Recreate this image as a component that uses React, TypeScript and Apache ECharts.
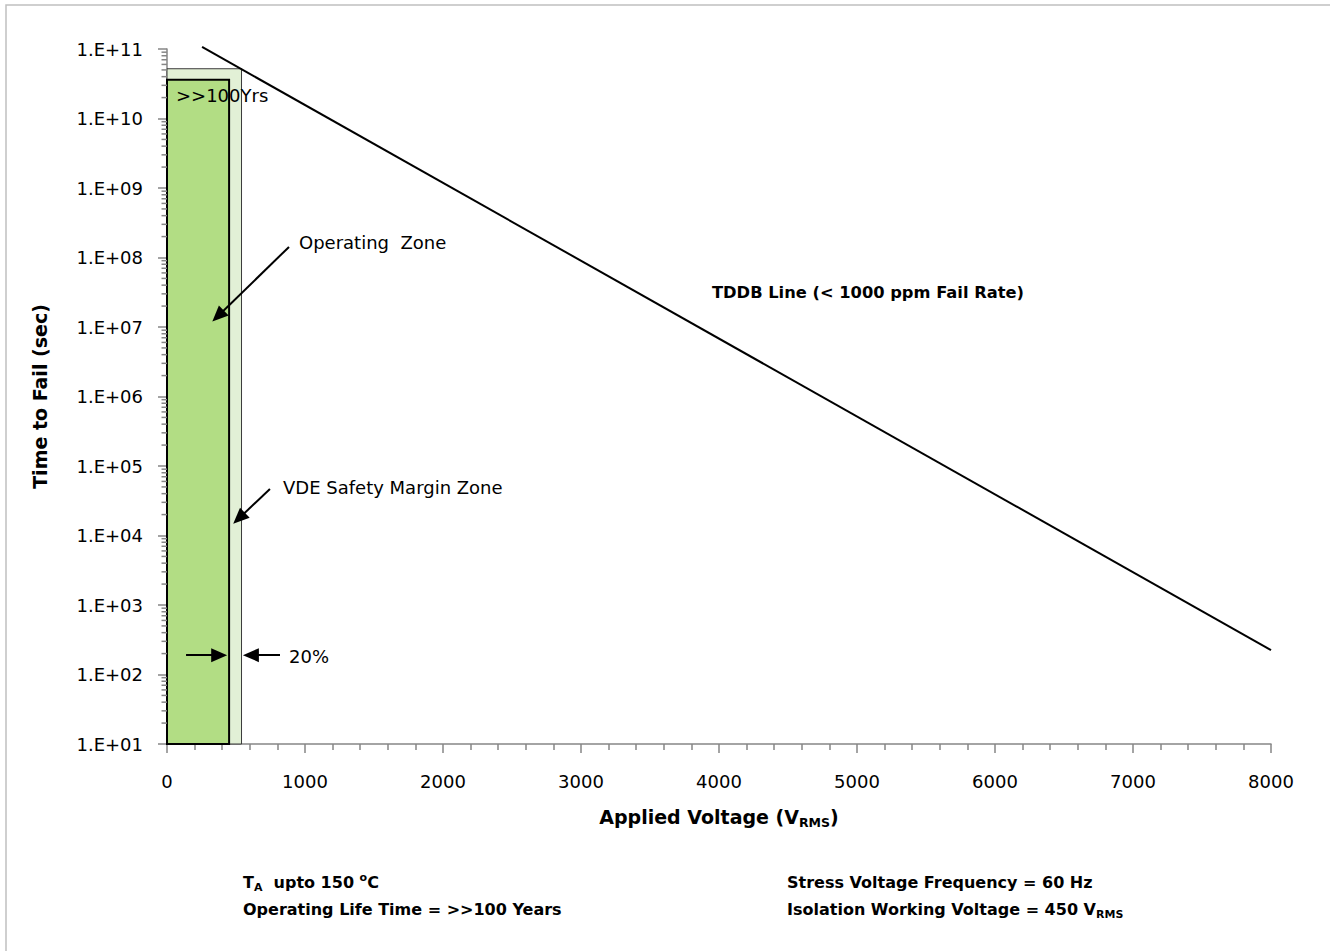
import React, { useEffect, useRef } from "react";
import * as echarts from "echarts";

// ---- data ----
const xTickValues = [0, 1000, 2000, 3000, 4000, 5000, 6000, 7000, 8000];
const yDecades = [1, 2, 3, 4, 5, 6, 7, 8, 9, 10, 11];
const tddbVoltage = [254, 8000];
const tddbTime = [1.07e11, 225];
// zones: [xStart, xEnd, yBottom, yTop]
const vdeZone = [0, 540, 10, 5.2e10];
const operatingZone = [0, 450, 10, 3.6e10];
// annotation arrows: [xFrom, yFrom, xTo, yTo] (data coordinates)
const operatingArrow = [884, 1.42e8, 370, 1.44e7];
const vdeArrow = [746, 4.67e4, 522, 1.77e4];
const marginArrowRight = [138, 190, 378, 190];
const marginArrowLeft = [819, 190, 608, 190];

const FONT = "DejaVu Sans";

function minorValues(): number[] {
  const out: number[] = [];
  for (let i = 0; i < yDecades.length - 1; i++) {
    for (let m = 2; m <= 9; m++) out.push(m * Math.pow(10, yDecades[i]));
  }
  return out;
}

export default function App() {
  const ref = useRef<HTMLDivElement>(null);
  useEffect(() => {
    document.body.style.margin = "0";
    const chart = echarts.init(ref.current!, undefined, { renderer: "svg" });
    const arrow = (a: number[]) => [
      { coord: [a[0], a[1]], symbol: "none" },
      { coord: [a[2], a[3]], symbol: "triangle", symbolSize: [14, 16] },
    ];
    const zones = [vdeZone, operatingZone];
    const zoneStyles = [
      { fill: "#E2F0D6", stroke: "#3a3a3a", lineWidth: 1 },
      { fill: "#B2DD84", stroke: "#000000", lineWidth: 2 },
    ];
    const bold16 = { fontFamily: FONT, fontSize: 16, fontWeight: "bold", fill: "#000", lineHeight: 21 };
    const sub11 = { fontFamily: FONT, fontSize: 11, fontWeight: "bold", fill: "#000", lineHeight: 13, verticalAlign: "bottom" };
    const sup11 = { fontFamily: FONT, fontSize: 11, fontWeight: "bold", fill: "#000", lineHeight: 13, verticalAlign: "top" };
    const option: any = {
      animation: false,
      grid: { left: 167, right: 59, top: 49, bottom: 207, containLabel: false },
      xAxis: {
        type: "value",
        min: xTickValues[0],
        max: xTickValues[xTickValues.length - 1],
        interval: 1000,
        name: "{b|Applied Voltage (V}{s|RMS}{b|)}",
        nameLocation: "middle",
        nameGap: 60,
        nameTextStyle: {
          rich: {
            b: { fontFamily: FONT, fontSize: 19, fontWeight: "bold", color: "#000", lineHeight: 25 },
            s: { fontFamily: FONT, fontSize: 12.5, fontWeight: "bold", color: "#000", lineHeight: 14, verticalAlign: "bottom" },
          },
        },
        axisLine: { lineStyle: { color: "#868686", width: 1.5 } },
        axisTick: { show: true, length: 9, lineStyle: { color: "#868686", width: 1.5 } },
        minorTick: { show: true, splitNumber: 5, length: 6, lineStyle: { color: "#868686", width: 1.5 } },
        splitLine: { show: false },
        axisLabel: { fontFamily: FONT, fontSize: 18, color: "#000", margin: 28, formatter: (v: number) => String(v) },
      },
      yAxis: {
        type: "log",
        logBase: 10,
        min: Math.pow(10, yDecades[0]),
        max: Math.pow(10, yDecades[yDecades.length - 1]),
        interval: 1,
        name: "Time to Fail (sec)",
        nameLocation: "middle",
        nameRotate: 90,
        nameGap: 118,
        nameTextStyle: { fontFamily: FONT, fontSize: 19, fontWeight: "bold", color: "#000" },
        axisLine: { show: true, lineStyle: { color: "#868686", width: 1.5 } },
        axisTick: { show: true, length: 9, lineStyle: { color: "#868686", width: 1.5 } },
        splitLine: { show: false },
        axisLabel: {
          fontFamily: FONT,
          fontSize: 18,
          color: "#000",
          margin: 24,
          formatter: (v: number) => {
            const e = Math.round(Math.log10(v));
            return "1.E+" + (e < 10 ? "0" + e : String(e));
          },
        },
      },
      series: [
        {
          type: "custom",
          z: 1,
          clip: false,
          encode: { x: [0, 1], y: [2, 3] },
          data: zones,
          renderItem: (params: any, api: any) => {
            const p0 = api.coord([api.value(0), api.value(2)]);
            const p1 = api.coord([api.value(1), api.value(3)]);
            const s = zoneStyles[params.dataIndex];
            return {
              type: "rect",
              shape: { x: p0[0], y: p1[1], width: p1[0] - p0[0], height: p0[1] - p1[1] },
              style: { fill: s.fill, stroke: s.stroke, lineWidth: s.lineWidth },
            };
          },
        },
        {
          type: "custom",
          z: 2,
          clip: false,
          silent: true,
          data: minorValues().map((v) => [0, v]),
          renderItem: (params: any, api: any) => {
            const p = api.coord([0, api.value(1)]);
            return {
              type: "line",
              shape: { x1: p[0] - 5.5, y1: p[1], x2: p[0], y2: p[1] },
              style: { stroke: "#868686", lineWidth: 1.5 },
            };
          },
        },
        {
          type: "line",
          z: 5,
          clip: false,
          symbol: "none",
          data: tddbVoltage.map((v, i) => [v, tddbTime[i]]),
          lineStyle: { color: "#000", width: 2 },
          markLine: {
            silent: true,
            animation: false,
            label: { show: false },
            lineStyle: { color: "#000", width: 2, type: "solid" },
            emphasis: { disabled: true },
            data: [
              arrow(operatingArrow),
              arrow(vdeArrow),
              arrow(marginArrowRight),
              arrow(marginArrowLeft),
            ],
          },
        },
      ],
      graphic: [
        {
          type: "rect",
          shape: { x: 6, y: 5, width: 1400, height: 1000 },
          style: { fill: "none", stroke: "#c0c0c0", lineWidth: 1.5 },
          silent: true,
          z: -10,
        },
        { type: "text", x: 176, y: 95, style: { text: ">>100Yrs", fontFamily: FONT, fontSize: 18, fill: "#000", verticalAlign: "middle" }, z: 10 },
        { type: "text", x: 299, y: 242, style: { text: "Operating  Zone", fontFamily: FONT, fontSize: 18, fill: "#000", verticalAlign: "middle" }, z: 10 },
        { type: "text", x: 283, y: 487, style: { text: "VDE Safety Margin Zone", fontFamily: FONT, fontSize: 18, fill: "#000", verticalAlign: "middle" }, z: 10 },
        { type: "text", x: 289, y: 656, style: { text: "20%", fontFamily: FONT, fontSize: 18, fill: "#000", verticalAlign: "middle" }, z: 10 },
        { type: "text", x: 712, y: 292, style: { text: "TDDB Line (< 1000 ppm Fail Rate)", fontFamily: FONT, fontSize: 16.3, fontWeight: "bold", fill: "#000", verticalAlign: "middle" }, z: 10 },
        {
          type: "text",
          x: 243,
          y: 882,
          z: 10,
          style: {
            text: "{b|T}{s|A}{b|  upto 150 }{u|o}{b|C}",
            verticalAlign: "middle",
            rich: { b: bold16, s: sub11, u: sup11 },
          },
        },
        { type: "text", x: 243, y: 909, z: 10, style: { text: "Operating Life Time = >>100 Years", fontFamily: FONT, fontSize: 16, fontWeight: "bold", fill: "#000", verticalAlign: "middle" } },
        { type: "text", x: 787, y: 882, z: 10, style: { text: "Stress Voltage Frequency = 60 Hz", fontFamily: FONT, fontSize: 16, fontWeight: "bold", fill: "#000", verticalAlign: "middle" } },
        {
          type: "text",
          x: 787,
          y: 909,
          z: 10,
          style: {
            text: "{b|Isolation Working Voltage = 450 V}{s|RMS}",
            verticalAlign: "middle",
            rich: { b: bold16, s: sub11 },
          },
        },
      ],
    };
    chart.setOption(option);
    return () => chart.dispose();
  }, []);
  return <div ref={ref} style={{ width: 1330, height: 951 }} />;
}
